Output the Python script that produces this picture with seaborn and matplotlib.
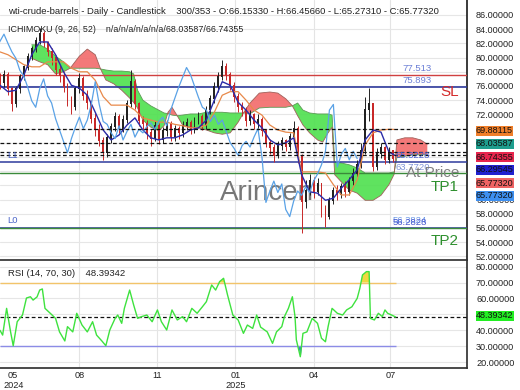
import matplotlib
matplotlib.use("Agg")
import matplotlib.pyplot as plt
import numpy as np
import pandas as pd
import seaborn as sns

# ---- values (x = bar index, 300 bars of 353 slots) ----
candle_bar = list(range(0, 300, 3))
opens = [77.0, 76.4, 77.6, 75.6, 73.4, 75.6, 77.2, 78.6, 80.1, 81.2,
         82.3, 83.3, 82.0, 80.8, 79.9, 78.2, 77.4, 75.8, 73.9, 73.0,
         75.6, 77.0, 74.6, 73.6, 71.4, 69.8, 68.2, 66.6, 68.6, 70.2,
         71.6, 70.0, 71.2, 73.4, 76.6, 73.4, 71.0, 70.6, 69.4, 68.6,
         70.4, 68.4, 69.6, 70.6, 68.8, 69.9, 69.4, 70.3, 70.8, 69.9,
         71.0, 71.6, 70.4, 72.6, 74.2, 75.8, 77.2, 78.6, 77.6, 76.0,
         74.4, 73.0, 72.6, 71.0, 71.9, 70.6, 71.2, 69.6, 68.0, 67.2,
         66.2, 67.6, 68.2, 67.4, 68.8, 70.0, 66.0, 59.6, 61.2, 62.6,
         61.0, 62.2, 58.6, 57.6, 59.8, 61.2, 60.6, 61.8, 61.0, 62.6,
         63.6, 64.9, 66.8, 72.6, 73.4, 64.6, 66.4, 67.2, 65.6, 66.8]
highs = [77.8, 78.3, 77.9, 75.9, 76.0, 77.7, 79.0, 80.6, 81.7, 82.9,
         84.2, 83.8, 82.4, 81.4, 80.3, 78.9, 77.9, 76.4, 74.6, 76.0,
         77.8, 77.4, 75.4, 74.0, 72.2, 70.6, 68.8, 69.2, 70.8, 72.3,
         72.0, 71.9, 74.0, 78.3, 77.0, 73.8, 71.8, 71.2, 70.0, 71.0,
         70.8, 70.2, 71.2, 71.0, 70.5, 70.4, 71.0, 71.5, 71.2, 71.6,
         72.3, 72.0, 73.2, 74.8, 76.5, 78.0, 79.6, 79.2, 78.0, 76.6,
         75.0, 73.8, 73.0, 72.6, 72.2, 72.0, 71.6, 70.0, 68.6, 67.8,
         68.2, 68.8, 68.6, 69.4, 71.0, 70.4, 66.4, 62.8, 63.6, 63.2,
         63.0, 62.4, 59.2, 60.4, 61.8, 62.0, 62.4, 62.6, 63.2, 64.4,
         65.6, 68.0, 74.4, 75.7, 73.6, 67.2, 68.0, 67.6, 67.4, 67.0]
lows = [75.6, 75.9, 74.8, 72.5, 73.0, 75.0, 76.8, 78.2, 79.6, 80.8,
        81.9, 81.5, 80.2, 79.0, 77.6, 76.6, 75.2, 73.2, 72.0, 72.6,
        75.0, 74.0, 72.8, 70.8, 69.0, 67.5, 65.6, 66.0, 68.0, 69.6,
        69.4, 69.5, 70.8, 73.0, 72.8, 70.4, 69.8, 68.6, 67.6, 68.2,
        67.8, 67.9, 69.0, 68.2, 68.3, 68.6, 68.8, 69.8, 69.2, 69.4,
        70.6, 69.8, 70.0, 72.0, 73.6, 75.2, 76.8, 76.9, 75.4, 73.8,
        72.4, 71.8, 70.4, 70.5, 70.0, 69.8, 69.0, 67.4, 66.4, 65.3,
        65.8, 67.0, 66.8, 67.0, 68.4, 65.2, 55.3, 58.8, 60.6, 60.2,
        60.6, 57.6, 56.1, 57.2, 59.4, 60.0, 60.2, 60.4, 60.6, 62.0,
        63.2, 64.4, 66.4, 71.0, 64.0, 64.2, 65.8, 65.0, 65.2, 65.27]
closes = [76.4, 77.6, 75.6, 73.4, 75.6, 77.2, 78.6, 80.1, 81.2, 82.3,
          83.3, 82.0, 80.8, 79.9, 78.2, 77.4, 75.8, 73.9, 73.0, 75.6,
          77.0, 74.6, 73.6, 71.4, 69.8, 68.2, 66.6, 68.6, 70.2, 71.6,
          70.0, 71.2, 73.4, 76.6, 73.4, 71.0, 70.6, 69.4, 68.6, 70.4,
          68.4, 69.6, 70.6, 68.8, 69.9, 69.4, 70.3, 70.8, 69.9, 71.0,
          71.6, 70.4, 72.6, 74.2, 75.8, 77.2, 78.6, 77.6, 76.0, 74.4,
          73.0, 72.6, 71.0, 71.9, 70.6, 71.2, 69.6, 68.0, 67.2, 66.2,
          67.6, 68.2, 67.4, 68.8, 70.0, 66.0, 59.6, 61.2, 62.6, 61.0,
          62.2, 58.6, 57.6, 59.8, 61.2, 60.6, 61.8, 61.0, 62.6, 63.6,
          64.9, 66.8, 72.6, 73.4, 64.6, 66.4, 67.2, 65.6, 66.8, 65.7732]

line_bar = list(range(0, 300, 6)) + [298]
tenkan = [76.1, 75.2, 75.4, 77.5, 80.4, 82.2, 82.2, 80.4, 78.0, 76.1,
          75.7, 74.7, 72.3, 69.8, 68.4, 69.1, 70.5, 71.5, 69.8, 68.7,
          68.4, 68.7, 68.7, 69.1, 69.8, 70.1, 71.2, 74.0, 76.6, 76.1,
          73.7, 72.6, 71.2, 70.1, 68.4, 67.7, 68.0, 68.7, 63.5, 61.1,
          60.9, 59.9, 60.2, 61.6, 62.8, 64.2, 68.4, 69.8, 69.5, 66.7, 66.29545]
kijun = [80.8, 80.4, 79.7, 79.0, 78.7, 78.7, 79.4, 79.4, 79.4, 78.5,
         78.0, 78.0, 76.8, 74.5, 73.3, 73.3, 73.3, 72.6, 71.5, 71.2,
         70.9, 70.9, 70.6, 70.4, 70.1, 70.1, 70.5, 72.3, 74.7, 75.2,
         75.2, 74.0, 72.6, 71.9, 70.5, 69.8, 69.5, 69.4, 63.9, 63.9,
         63.9, 63.75, 62.1, 60.65, 60.65, 62.8, 67.7, 69.4, 69.8, 69.9, 69.88115]
chikou_shift = 27

cloud_bar = [24, 30, 36, 42, 48, 53, 60, 66, 72, 76, 80, 86, 92, 98, 101, 104,
             108, 114, 120, 124, 127, 130, 134, 138, 144, 150, 156, 162, 168,
             174, 180, 184, 189, 196, 204, 210, 216, 221, 225, 229, 234, 240,
             244, 248, 251, 253, 258, 264, 270, 276, 282, 288, 294, 298, 300,
             306, 312, 318, 323]
span_a = [81.8, 81.8, 81.2, 80.2, 79.4, 78.5, 78.5, 78.5, 78.5, 78.4, 78.25,
          78.1, 78.1, 78.0, 77.7, 75.4, 74.0, 73.2, 72.6, 72.2, 72.1, 71.9,
          71.8, 71.9, 72.06, 72.06, 72.3, 72.3, 72.3, 72.2, 72.2, 72.2, 72.1,
          72.9, 73.0, 73.0, 73.0, 73.2, 73.6, 72.6, 72.2, 72.06, 72.06, 72.06,
          71.9, 65.3, 65.15, 64.9, 64.45, 63.75, 63.75, 63.75, 63.75, 63.9,
          65.9, 66.1, 66.3, 66.3, 66.3]
span_b = [79.9, 79.4, 79.0, 77.7, 78.0, 78.5, 80.2, 81.2, 80.4, 78.4, 76.85,
          76.3, 75.4, 74.3, 73.7, 72.9, 71.2, 70.2, 69.7, 70.4, 72.3, 73.0,
          71.8, 70.5, 70.2, 70.1, 69.8, 69.4, 69.2, 69.4, 70.9, 72.2, 73.6,
          75.0, 75.15, 75.0, 74.2, 73.2, 71.8, 70.5, 69.4, 68.4, 68.1, 69.4,
          70.2, 63.5, 62.5, 61.35, 60.9, 59.9, 59.9, 60.6, 62.1, 63.6, 68.4,
          68.7, 68.7, 68.4, 67.8]

rsi_bar = [0, 2, 5, 8, 10, 13, 17, 20, 23, 25, 28, 30, 32, 34, 38, 42, 45, 49,
           51, 55, 58, 62, 66, 70, 73, 77, 80, 83, 87, 89, 92, 94, 98, 101, 104,
           107, 111, 115, 119, 122, 126, 130, 134, 138, 141, 145, 149, 153, 156,
           160, 163, 166, 169, 172, 176, 180, 184, 187, 191, 194, 197, 202, 206,
           209, 213, 215, 218, 221, 223, 224, 227, 229, 232, 236, 240, 243, 246,
           248, 251, 255, 259, 262, 266, 270, 272, 274, 277, 279, 280, 283, 286,
           289, 291, 293, 296, 299]
rsi_val = [40, 37, 53.8, 39, 30.3, 45.4, 49.6, 60.3, 61.1, 59,
           61, 65.3, 66, 53.8, 50.7, 47.5, 39, 33.3, 42.3, 39,
           50.7, 43.3, 39, 45.4, 37, 33.3, 30.3, 40.2, 47.5, 49.6,
           44.4, 53.8, 65.3, 56, 47.5, 48.6, 49.6, 45.4, 52.8, 45.4,
           40.2, 52.8, 46.5, 48.6, 45.4, 53.8, 50.7, 54.8, 58, 68.5,
           65.3, 70.6, 72.7, 62.2, 49.6, 46.5, 38.1, 43.3, 41.2, 49.6,
           42, 39, 31.8, 39, 42.3, 48.6, 53.8, 61.1, 48.6, 34,
           23.4, 38.1, 39, 47.5, 44.4, 35, 32.8, 42.3, 53.8, 50.7,
           49.6, 52.8, 54.8, 60.1, 66.4, 74.8, 76.9, 76.9, 47.5, 46.5,
           50.7, 48.6, 52.8, 50.7, 49.6, 48.39342]

tick_bar = [10, 60, 119, 178, 237, 295]
tick_text = ["05\n2024", "08", "11", "01\n2025", "04", "07"]

price_ticks = list(range(52, 87, 2))
covered_ticks = [62, 64, 66, 68, 70]   # hidden behind the last-value boxes
rsi_ticks = [20, 30, 40, 50, 60, 70, 80]

last_marks = [69.88115, 68.03587, 66.74355, 66.29545]
last_labels = [69.88115, 68.03587, 66.74355, 66.29545, 65.77320, 65.77320]
last_colors = ["#f07f2a", "#1e9e8e", "#e8264e", "#2020d0", "#f06464", "#3d8ff0"]
sl_lines = [77.513, 75.893]
l1, tp1, l0, tp2 = 65.32, 63.772, 56.05, 55.95
rsi_last = 48.39342

# ---- figure ----
sns.set_theme(style="white")
plt.rcParams["font.family"] = ["Liberation Sans", "DejaVu Sans"]

W, H = 520, 390
fig = plt.figure(figsize=(W / 100, H / 100), dpi=100)
ax = fig.add_axes([0, 1 - 260 / H, 467 / W, 260 / H])
rx = fig.add_axes([0, 1 - 368 / H, 467 / W, 108 / H])

for a in (ax, rx):
    a.set_xlim(0, 353)
    for b in tick_bar[1:]:
        a.axvline(b, color="#e4e4e4", lw=0.8, zorder=0)
ax.set_ylim(51.49, 88.11)
rx.set_ylim(16.3, 84.2)

# cloud
sa, sb = np.array(span_a), np.array(span_b)
ax.fill_between(cloud_bar, sa, sb, where=sa >= sb, interpolate=True,
                color="#4ee04e", alpha=0.9, lw=0, zorder=2)
ax.fill_between(cloud_bar, sa, sb, where=sa < sb, interpolate=True,
                color="#f26b6b", alpha=0.9, lw=0, zorder=2)
ax.plot(cloud_bar, span_a, color="#5c9a55", lw=0.6, zorder=2)
ax.plot(cloud_bar, span_b, color="#a0605a", lw=0.6, zorder=2)

# candles
c = pd.DataFrame({"bar": candle_bar, "o": opens, "h": highs, "l": lows, "c": closes})
col = np.where(c["c"] >= c["o"], "#222222", "#c82828")
ax.vlines(c["bar"], c["l"], c["h"], colors=col, lw=0.7, zorder=4)
ax.bar(c["bar"], (c["c"] - c["o"]).abs() + 0.15, bottom=np.minimum(c["o"], c["c"]),
       width=1.4, color=col, lw=0, zorder=4)

# ichimoku lines
sns.lineplot(x=line_bar, y=kijun, ax=ax, color="#e8894a", lw=0.9, zorder=5)
sns.lineplot(x=line_bar, y=tenkan, ax=ax, color="#2b2ba8", lw=1.0, zorder=5)
sns.lineplot(x=c["bar"] - chikou_shift, y=c["c"], ax=ax, color="#5aa2e6",
             lw=0.9, sort=False, zorder=5)

# levels
for v in last_marks:
    ax.axhline(v, color="#111111", lw=0.9, ls=(0, (3, 2)), zorder=6)
ax.axhline(sl_lines[0], color="#d04040", lw=1.0, zorder=3)
ax.axhline(sl_lines[1], color="#2e3a9c", lw=1.2, zorder=3)
ax.axhline(l1, color="#2e3a9c", lw=1.1, zorder=3)
ax.axhline(tp1, color="#3a8a3a", lw=1.0, zorder=3)
ax.axhline(l0, color="#2e3a9c", lw=1.1, zorder=3)
ax.axhline(tp2, color="#3a8a3a", lw=1.0, zorder=3)

ax.set_yticks(price_ticks)
ax.set_yticklabels(["" if v in covered_ticks else f"{v:.5f}" for v in price_ticks])
ax.grid(axis="y", color="#e6e6e6", lw=0.8)
ax.set_axisbelow(True)
ax.yaxis.tick_right()
ax.tick_params(axis="y", length=0, pad=6.5, labelsize=6.6, labelcolor="#222222")
ax.tick_params(axis="x", bottom=False, labelbottom=False)
for s in ("top", "left", "bottom"):
    ax.spines[s].set_visible(False)
ax.spines["right"].set_color("#222222")

# watermark
ax.text(0.572, 0.258, "Arincen", transform=ax.transAxes, ha="center", va="center",
        fontsize=20, color="#777777", zorder=1)

# level texts
lvl = dict(fontsize=6.8, zorder=7)
ax.annotate(f"{sl_lines[0]}", xy=(1, sl_lines[0]), xycoords=("axes fraction", "data"),
            xytext=(-35, 2), textcoords="offset pixels", ha="right", va="bottom",
            color="#6b7fd6", **lvl)
ax.annotate(f"{sl_lines[1]}", xy=(1, sl_lines[1]), xycoords=("axes fraction", "data"),
            xytext=(-35, 2), textcoords="offset pixels", ha="right", va="bottom",
            color="#6b7fd6", **lvl)
ax.annotate("SL", xy=(1, sl_lines[1]), xycoords=("axes fraction", "data"),
            xytext=(-8, 2), textcoords="offset pixels", ha="right", va="top",
            color="#d42a2a", fontsize=11, zorder=7)
ax.annotate("65.3228", xy=(1, l1), xycoords=("axes fraction", "data"),
            xytext=(-72, 2), textcoords="offset pixels", ha="left", va="bottom",
            color="#4a64d8", **lvl)
ax.annotate(f"{tp1:.4f}", xy=(1, tp1), xycoords=("axes fraction", "data"),
            xytext=(-72, 1), textcoords="offset pixels", ha="left", va="bottom",
            color="#7f95d8", **lvl)
ax.annotate("At Price", xy=(1, tp1), xycoords=("axes fraction", "data"),
            xytext=(-8, 0), textcoords="offset pixels", ha="right", va="center",
            color="#7f7f7f", fontsize=11, zorder=7)
ax.annotate("TP1", xy=(1, tp1), xycoords=("axes fraction", "data"),
            xytext=(-8, -7), textcoords="offset pixels", ha="right", va="top",
            color="#2d8f2d", fontsize=11, zorder=7)
ax.annotate("TP2", xy=(1, tp2), xycoords=("axes fraction", "data"),
            xytext=(-8, -6), textcoords="offset pixels", ha="right", va="top",
            color="#2d8f2d", fontsize=11, zorder=7)
ax.annotate("56.3824", xy=(1, l0), xycoords=("axes fraction", "data"),
            xytext=(-74, 3), textcoords="offset pixels", ha="left", va="bottom",
            color="#6e9ae6", **lvl)
ax.annotate("56.2828", xy=(1, l0), xycoords=("axes fraction", "data"),
            xytext=(-74, 1), textcoords="offset pixels", ha="left", va="bottom",
            color="#4a5ad0", **lvl)
ax.annotate("L1", xy=(0, l1), xycoords=("axes fraction", "data"), xytext=(7, 2),
            textcoords="offset pixels", ha="left", va="bottom", color="#4a64c8", **lvl)
ax.annotate("L0", xy=(0, l0), xycoords=("axes fraction", "data"), xytext=(7, 3),
            textcoords="offset pixels", ha="left", va="bottom", color="#4a64c8", **lvl)

# headers
fig.text(8 / W, 1 - 12 / H, "wti-crude-barrels - Daily - Candlestick    300/353 - "
         "O:66.15330 - H:66.45660 - L:65.27310 - C:65.77320", va="center",
         fontsize=6.8, color="#222222")
fig.text(8 / W, 1 - 29 / H, "ICHIMOKU (9, 26, 52)    n/a/n/a/n/a/n/a/68.03587/66.74355",
         va="center", fontsize=6.4, color="#222222")

# last value boxes
for i, (v, colr) in enumerate(zip(last_labels, last_colors)):
    fig.text(476 / W, 1 - (131 + 13 * i) / H, f"{v:.5f}", va="center", fontsize=6.5,
             color="#111111", bbox=dict(boxstyle="square,pad=0.05", fc=colr, ec="none"))

# RSI panel
rv = np.array(rsi_val)
rx.set_yticks(rsi_ticks)
rx.set_yticklabels(["" if v == 50 else f"{v:.5f}" for v in rsi_ticks])
rx.grid(axis="y", color="#e6e6e6", lw=0.8)
rx.set_axisbelow(True)
rx.hlines(70, 0, 299, color="#f2c46a", lw=1.0, zorder=2)
rx.hlines(30, 0, 299, color="#8c8ce6", lw=1.0, zorder=2)
rx.axhline(rsi_last, color="#111111", lw=0.9, ls=(0, (3, 2)), zorder=3)
rx.fill_between(rsi_bar, rv, 70, where=rv > 70, interpolate=True, color="#f0d840", lw=0)
rx.fill_between(rsi_bar, rv, 30, where=rv < 30, interpolate=True, color="#3a7ad0", lw=0)
sns.lineplot(x=rsi_bar, y=rsi_val, ax=rx, color="#3ee23e", lw=1.0, zorder=4)
rx.yaxis.tick_right()
rx.tick_params(axis="y", length=0, pad=6.5, labelsize=6.6, labelcolor="#222222")
rx.set_xticks(tick_bar)
rx.set_xticklabels(tick_text)
rx.tick_params(axis="x", length=0, pad=2, labelsize=6.6, labelcolor="#222222")
rx.set_xlabel("")
rx.set_ylabel("")
ax.set_xlabel("")
ax.set_ylabel("")
rx.spines["left"].set_visible(False)
for s in ("top", "right", "bottom"):
    rx.spines[s].set_color("#333333")
fig.text(8 / W, 1 - 273 / H, "RSI (14, 70, 30)    48.39342", va="center",
         fontsize=6.8, color="#222222")
fig.text(476 / W, 1 - 316 / H, f"{rsi_last:.5f}", va="center", fontsize=6.5,
         color="#111111", bbox=dict(boxstyle="square,pad=0.05", fc="#22ee22", ec="none"))

fig.savefig("out.png", dpi=100)
